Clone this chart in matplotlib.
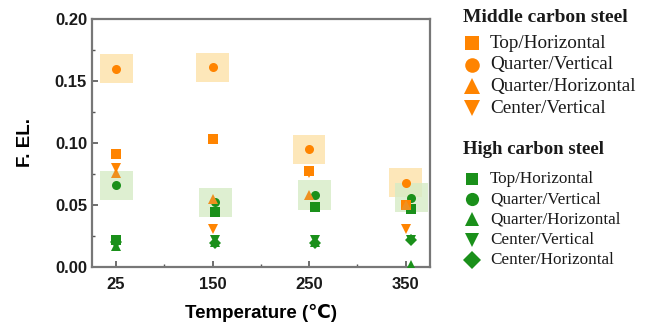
import matplotlib
matplotlib.use("Agg")
import matplotlib.pyplot as plt
import numpy as np
from matplotlib.lines import Line2D
from matplotlib.patches import Rectangle

temps = ['25', '150', '250', '350']

# Middle carbon steel
mid_top_h = [0.091, 0.103, 0.077, 0.050]
mid_quarter_v = [0.160, 0.161, 0.095, 0.068]
mid_quarter_h = [0.076, 0.055, 0.058, 0.050]
mid_center_v = [0.080, 0.031, 0.076, 0.031]

# High carbon steel
high_top_h = [0.022, 0.044, 0.048, 0.047]
high_quarter_v = [0.066, 0.052, 0.058, 0.056]
high_quarter_h = [0.017, 0.020, 0.020, 0.002]
high_center_v = [0.022, 0.022, 0.022, 0.022]
high_center_h = [0.020, 0.019, 0.019, 0.022]

labels = ['Top/Horizontal', 'Quarter/Vertical', 'Quarter/Horizontal',
          'Center/Vertical', 'Center/Horizontal']

ORANGE = '#ff8400'
ORANGE_T = '#ee9020'
GREEN = '#1a901a'
BOX_O = '#fde6b5'
BOX_G = '#d6ecc6'

W, H = 657, 326
fig = plt.figure(figsize=(W / 100, H / 100), dpi=100)
ax = fig.add_axes([0.140, 0.181, 0.514, 0.761])

x = np.arange(len(temps))
green_off = np.array([0.0, 0.03, 0.06, 0.06])
xg = x + green_off

bw, bh = 0.34, 0.0235
for xi, v in zip(x, mid_quarter_v):
    ax.add_patch(Rectangle((xi - bw / 2, v - bh / 2), bw, bh, facecolor=BOX_O,
                           edgecolor='none', alpha=0.95, zorder=1))
for xi, v in zip(xg, high_quarter_v):
    ax.add_patch(Rectangle((xi - bw / 2, v - bh / 2), bw, bh, facecolor=BOX_G,
                           edgecolor='none', alpha=0.8, zorder=1))

ms = 6.5
green_series = [(high_top_h, 's'), (high_quarter_v, 'o'), (high_quarter_h, '^'),
                (high_center_v, 'v'), (high_center_h, 'D')]
for vals, mk in green_series:
    ax.plot(xg, vals, linestyle='none', marker=mk, color=GREEN,
            markersize=ms if mk != 'D' else ms - 0.5, markeredgewidth=0, zorder=3)

orange_series = [(mid_top_h, 's', ORANGE), (mid_quarter_v, 'o', ORANGE),
                 (mid_quarter_h, '^', ORANGE_T), (mid_center_v, 'v', ORANGE)]
for vals, mk, c in orange_series:
    ax.plot(x, vals, linestyle='none', marker=mk, color=c, markersize=ms,
            markeredgewidth=0, zorder=4)

ax.set_xlim(-0.25, 3.25)
ax.set_ylim(0, 0.20)
ax.set_xticks(x)
ax.set_xticklabels(temps)
ax.set_xticks(x[:-1] + 0.5, minor=True)
ax.set_yticks([0, 0.05, 0.10, 0.15, 0.20])
ax.set_yticklabels(['0.00', '0.05', '0.10', '0.15', '0.20'])
ax.set_yticks([0.025, 0.075, 0.125, 0.175], minor=True)

ax.tick_params(which='both', direction='in', colors='#555555', labelcolor='#1a1a1a')
ax.tick_params(which='major', length=4, width=1.2)
ax.tick_params(which='minor', length=2.5, width=1.0)
ax.tick_params(axis='x', which='major', pad=7)
for lab in ax.get_xticklabels() + ax.get_yticklabels():
    lab.set_fontfamily(['Liberation Sans', 'DejaVu Sans'])
    lab.set_fontweight('bold')
    lab.set_fontsize(12)
for s in ax.spines.values():
    s.set_color('#777777')
    s.set_linewidth(1.6)

ax.set_ylabel('F. EL.', fontsize=13.5, fontweight='bold',
              family=['Liberation Sans', 'DejaVu Sans'], labelpad=15)
ax.set_xlabel('Temperature (℃)', fontsize=13.5, fontweight='bold',
              family=['Liberation Sans', 'DejaVu Sans'], labelpad=9)

# Manual legends (figure pixel layout)
serif = ['Liberation Serif', 'DejaVu Serif']

def legend_block(title, title_y, entries, y0, dy, tsize, esize):
    fig.text(463 / W, 1 - title_y / H, title, family=serif, fontsize=tsize,
             fontweight='bold', va='center', ha='left', color='#1a1a1a')
    for i, (lab, mk, c, s) in enumerate(entries):
        yy = 1 - (y0 + i * dy) / H
        fig.add_artist(Line2D([472 / W], [yy], transform=fig.transFigure,
                              linestyle='none', marker=mk, color=c,
                              markersize=s, markeredgewidth=0))
        fig.text(490 / W, yy, lab, family=serif, fontsize=esize,
                 va='center', ha='left', color='#1a1a1a')

legend_block('Middle carbon steel', 17,
             [(labels[0], 's', ORANGE, 9.5), (labels[1], 'o', ORANGE, 10.5),
              (labels[2], '^', ORANGE, 11), (labels[3], 'v', ORANGE, 11)],
             43, 21.7, 14, 13.8)
legend_block('High carbon steel', 150,
             [(labels[0], 's', GREEN, 8.5), (labels[1], 'o', GREEN, 9.5),
              (labels[2], '^', GREEN, 10), (labels[3], 'v', GREEN, 10),
              (labels[4], 'D', GREEN, 9)],
             179, 20.2, 13.5, 12.3)

fig.savefig('out.png', dpi=100)
